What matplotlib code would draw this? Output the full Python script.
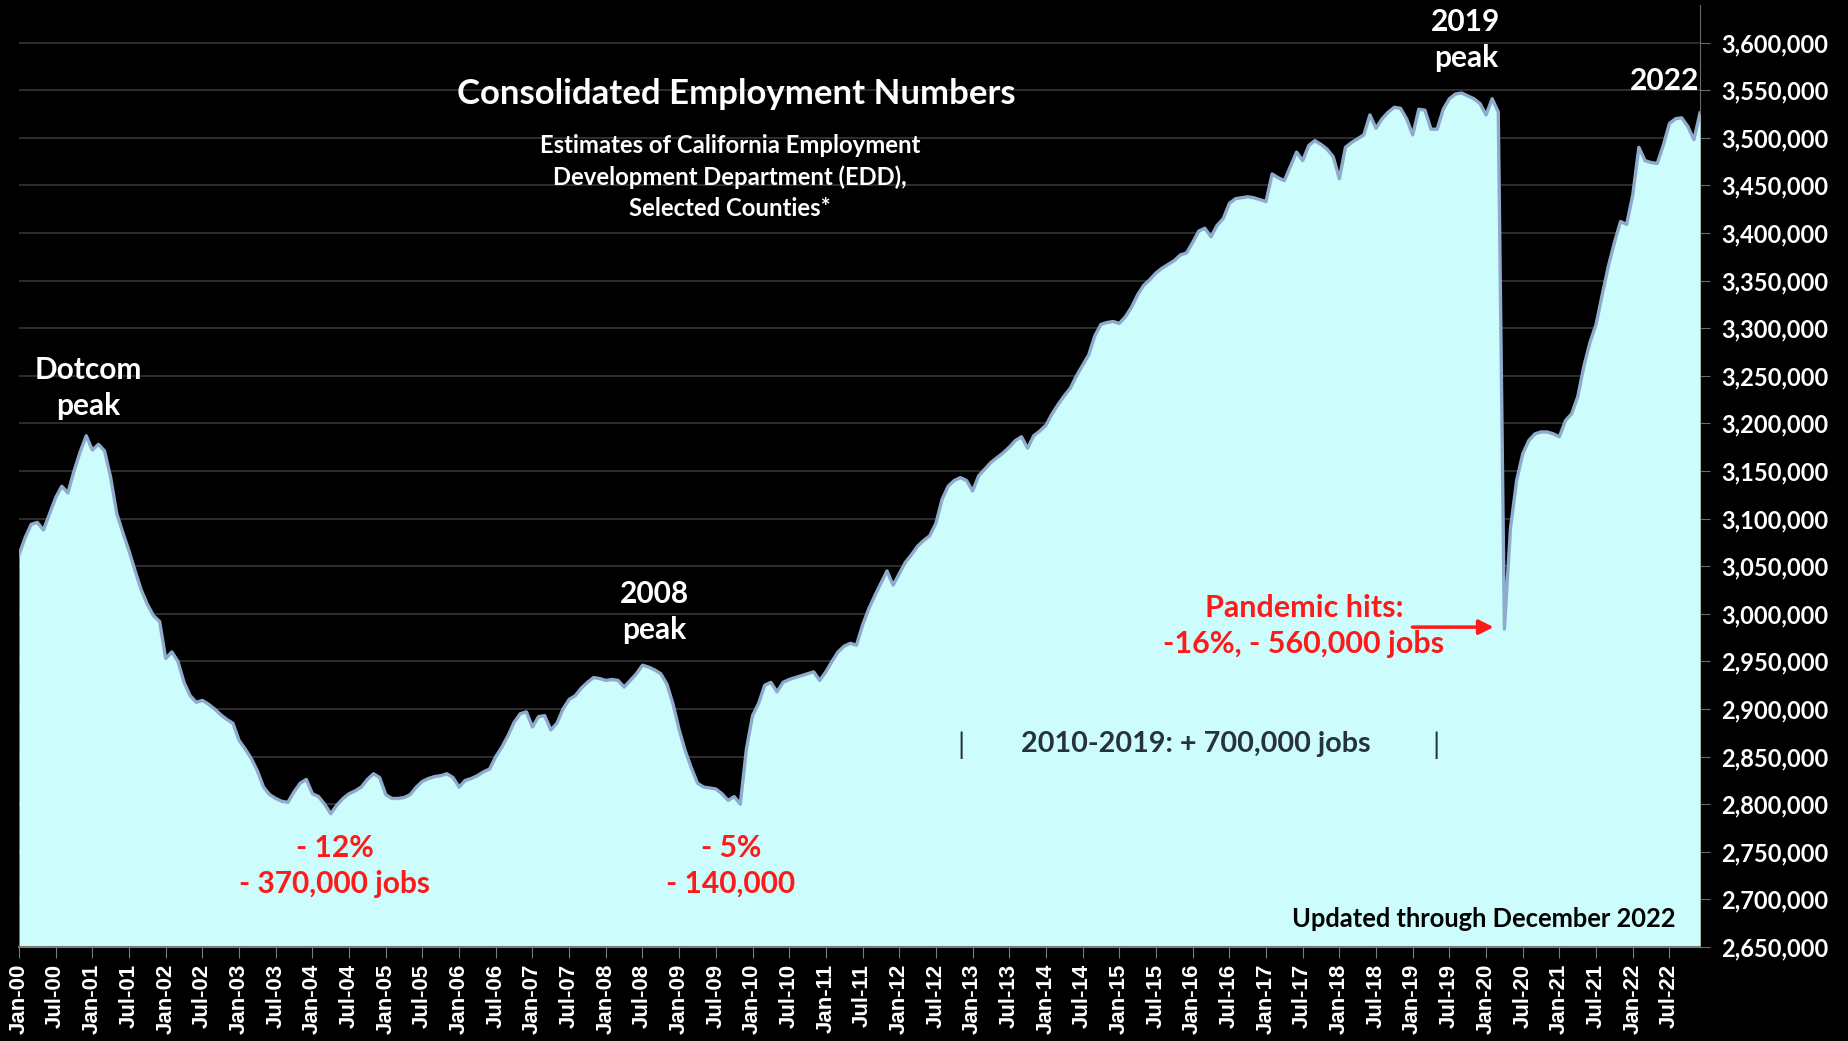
import matplotlib
matplotlib.use("Agg")
import matplotlib.pyplot as plt
import numpy as np
import pandas as pd

# Monthly employment, selected California counties (EDD estimates), Jan..Dec of each year
emp_2000 = [3062000, 3080000, 3094000, 3096000, 3088000, 3105000, 3122000, 3134000, 3127000, 3150000, 3170000, 3187000]
emp_2001 = [3172000, 3178000, 3171000, 3143000, 3105000, 3085000, 3066000, 3045000, 3025000, 3010000, 2998000, 2992000]
emp_2002 = [2953000, 2960000, 2950000, 2928000, 2914000, 2907000, 2909000, 2905000, 2900000, 2894000, 2889000, 2885000]
emp_2003 = [2867000, 2858000, 2848000, 2835000, 2818000, 2810000, 2806000, 2803000, 2802000, 2813000, 2822000, 2826000]
emp_2004 = [2811000, 2808000, 2800000, 2790000, 2799000, 2806000, 2811000, 2814000, 2818000, 2826000, 2832000, 2828000]
emp_2005 = [2810000, 2806000, 2806000, 2807000, 2810000, 2818000, 2824000, 2827000, 2829000, 2830000, 2832000, 2828000]
emp_2006 = [2818000, 2825000, 2827000, 2830000, 2834000, 2837000, 2850000, 2860000, 2872000, 2886000, 2895000, 2897000]
emp_2007 = [2881000, 2892000, 2893000, 2878000, 2885000, 2900000, 2910000, 2914000, 2922000, 2928000, 2933000, 2932000]
emp_2008 = [2930000, 2931000, 2930000, 2923000, 2930000, 2937000, 2946000, 2944000, 2941000, 2937000, 2926000, 2905000]
emp_2009 = [2878000, 2856000, 2838000, 2822000, 2818000, 2817000, 2816000, 2811000, 2804000, 2808000, 2800000, 2858000]
emp_2010 = [2893000, 2906000, 2925000, 2928000, 2918000, 2928000, 2931000, 2933000, 2935000, 2937000, 2939000, 2930000]
emp_2011 = [2939000, 2950000, 2960000, 2966000, 2969000, 2967000, 2988000, 3005000, 3019000, 3032000, 3045000, 3030000]
emp_2012 = [3042000, 3054000, 3062000, 3071000, 3077000, 3082000, 3095000, 3120000, 3134000, 3140000, 3143000, 3140000]
emp_2013 = [3129000, 3145000, 3152000, 3159000, 3164000, 3169000, 3175000, 3182000, 3186000, 3174000, 3187000, 3192000]
emp_2014 = [3198000, 3210000, 3220000, 3229000, 3237000, 3250000, 3261000, 3272000, 3292000, 3304000, 3306000, 3307000]
emp_2015 = [3305000, 3312000, 3322000, 3335000, 3345000, 3351000, 3358000, 3363000, 3367000, 3371000, 3377000, 3379000]
emp_2016 = [3390000, 3402000, 3405000, 3396000, 3408000, 3415000, 3431000, 3436000, 3437000, 3438000, 3437000, 3435000]
emp_2017 = [3433000, 3462000, 3458000, 3455000, 3470000, 3485000, 3476000, 3492000, 3497000, 3493000, 3488000, 3480000]
emp_2018 = [3457000, 3490000, 3495000, 3499000, 3503000, 3524000, 3510000, 3520000, 3527000, 3532000, 3531000, 3520000]
emp_2019 = [3503000, 3530000, 3529000, 3509000, 3509000, 3530000, 3541000, 3546000, 3547000, 3544000, 3541000, 3536000]
emp_2020 = [3524000, 3541000, 3527000, 2984000, 3090000, 3140000, 3168000, 3182000, 3189000, 3191000, 3191000, 3189000]
emp_2021 = [3186000, 3203000, 3210000, 3228000, 3260000, 3285000, 3304000, 3335000, 3365000, 3390000, 3412000, 3409000]
emp_2022 = [3440000, 3490000, 3476000, 3474000, 3473000, 3492000, 3515000, 3520000, 3521000, 3512000, 3498000, 3526000]

yearly = [emp_2000, emp_2001, emp_2002, emp_2003, emp_2004, emp_2005, emp_2006, emp_2007,
          emp_2008, emp_2009, emp_2010, emp_2011, emp_2012, emp_2013, emp_2014, emp_2015,
          emp_2016, emp_2017, emp_2018, emp_2019, emp_2020, emp_2021, emp_2022]
employment = np.concatenate([np.array(v, dtype=float) for v in yearly])

months = pd.date_range("2000-01-01", periods=len(employment), freq="MS")
x = np.arange(len(employment))
tick_idx = x[::6]
tick_labels = [d.strftime("%b-%y") for d in months[::6]]

y_min, y_max = 2650000, 3640000
y_ticks = np.arange(2650000, 3600001, 50000)

W, H = 1849, 1041
fig = plt.figure(figsize=(W / 100, H / 100), dpi=100, facecolor="black")
ax = fig.add_axes([19 / W, 1 - 947 / H, 1681 / W, 942.5 / H])
ax.set_facecolor("black")

CAL = ["Lato", "DejaVu Sans"]
FILL = "#cdfcfc"
EDGE = "#8eaacc"
RED = "#ff1a1a"

ax.set_xlim(0, len(employment) - 1)
ax.set_ylim(y_min, y_max)

ax.set_yticks(y_ticks)
ax.yaxis.grid(True, color="#363636", linewidth=1.2, zorder=0)
ax.set_axisbelow(True)

ax.fill_between(x, y_min, employment, color=FILL, linewidth=0, zorder=2)
ax.plot(x, employment, color=EDGE, linewidth=2.4, zorder=3, solid_joinstyle="round")

# axes styling
for side in ("top", "left"):
    ax.spines[side].set_visible(False)
ax.spines["right"].set_color("#6a6a6a")
ax.spines["bottom"].set_color("#7a7a7a")
ax.spines["bottom"].set_linewidth(1.5)
ax.spines["right"].set_zorder(1)

ax.yaxis.tick_right()
ax.set_yticklabels([f"{v:,.0f}" for v in y_ticks], family=CAL, fontweight="bold",
                   fontsize=17, color="white")
ax.tick_params(axis="y", length=7, color="#6a6a6a", pad=8)

ax.set_xticks(tick_idx)
ax.set_xticklabels(tick_labels, rotation=90, family=["Liberation Sans", "DejaVu Sans"],
                   fontweight="bold", fontsize=16, color="white")
ax.tick_params(axis="x", length=8, color="#7a7a7a", pad=4)


def ftext(px, py, s, weight="bold", ha="center", va="center", **kw):
    fig.text(px / W, 1 - py / H, s, family=CAL, fontweight=weight, ha=ha, va=va, **kw)


ftext(736, 94, "Consolidated Employment Numbers", fontsize=25, color="white")
ftext(730, 177, "Estimates of California Employment\nDevelopment Department (EDD),\nSelected Counties*",
      fontsize=17.2, color="white", linespacing=1.4)

ftext(88, 388, "Dotcom\npeak", fontsize=21.5, color="white", linespacing=1.35)
ftext(654, 612, "2008\npeak", fontsize=21.5, color="white", linespacing=1.35)
ftext(1466, 40, "2019\npeak", fontsize=21.5, color="white", linespacing=1.35)
ftext(1665, 81, "2022", fontsize=21.5, color="white")

ftext(335, 866, "- 12%\n- 370,000 jobs", fontsize=21.5, color=RED, linespacing=1.35)
ftext(731, 866, "- 5%\n- 140,000", fontsize=21.5, color=RED, linespacing=1.35)
ftext(1304, 626, "Pandemic hits:\n-16%, - 560,000 jobs", fontsize=22, color=RED, linespacing=1.35)

ftext(961, 745, "|", weight="normal", fontsize=21, color="#26323e")
ftext(1436, 745, "|", weight="normal", fontsize=21, color="#26323e")
ftext(1196, 744, "2010-2019: + 700,000 jobs", fontsize=20.7, color="#26323e")

ftext(1676, 919, "Updated through December 2022", fontsize=18.4, color="black", ha="right")

# arrow pointing at the pandemic trough
trough = int(np.argmin(employment[200:])) + 200
ax.annotate("", xy=(trough - 1.3, employment[trough] + 2000),
            xytext=(trough - 15.5, employment[trough] + 2000),
            arrowprops=dict(arrowstyle="-|>", color=RED, lw=2.5, mutation_scale=22),
            zorder=5)

fig.savefig("out.png", dpi=100, facecolor="black")
